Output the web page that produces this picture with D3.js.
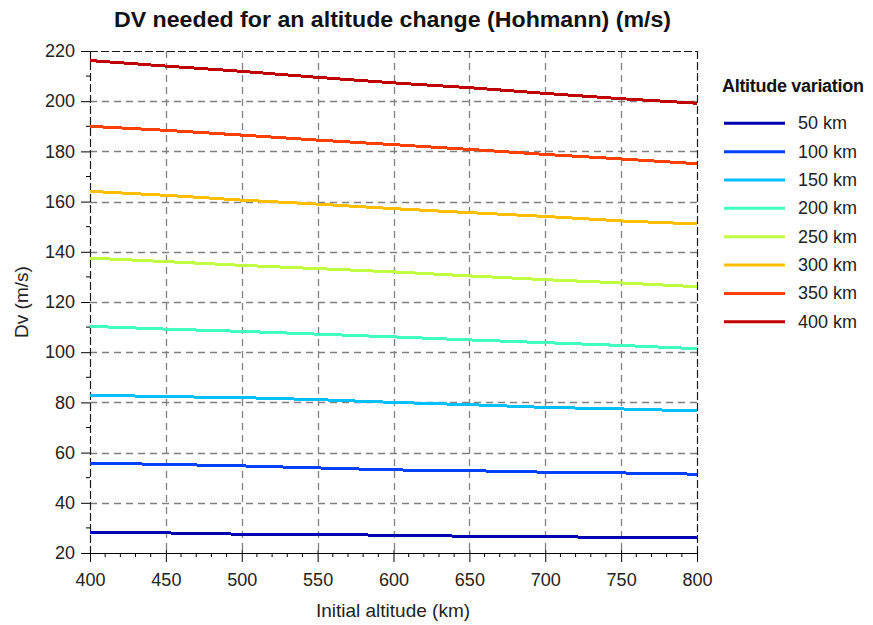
<!DOCTYPE html>
<html>
<head>
<meta charset="utf-8">
<script src="https://cdn.jsdelivr.net/npm/d3@7"></script>
<style>
  body { margin: 0; background: #fff; }
  svg { display: block; font-family: "Liberation Sans", Arial, sans-serif; }
</style>
</head>
<body>
<div id="chart"></div>
<script>
// initial altitudes (km)
const altitudes = [400, 450, 500, 550, 600, 650, 700, 750, 800];
// legend entries (altitude variation)
const variations = ["50 km", "100 km", "150 km", "200 km", "250 km", "300 km", "350 km", "400 km"];
const seriesColors = ["#0000b0", "#0040ff", "#00bfff", "#40ffbf", "#bfff40", "#ffbf00", "#ff4000", "#c00000"];

// DV values (m/s)
const dv50  = [28.0, 28.0, 27.5, 27.5, 27.0, 26.7, 26.5, 26.2, 26.1];
const dv100 = [55.8, 55.3, 54.7, 53.9, 53.1, 52.8, 52.2, 51.9, 51.4];
const dv150 = [82.9, 82.3, 81.9, 81.1, 80.0, 79.1, 78.0, 77.4, 76.6];
const dv200 = [110.3, 109.2, 108.3, 107.2, 106.1, 104.9, 103.8, 102.7, 101.4];
const dv250 = [137.5, 136.1, 134.6, 133.3, 132.0, 130.4, 128.9, 127.6, 126.1];
const dv300 = [164.1, 162.5, 160.6, 159.0, 157.2, 155.6, 154.1, 152.3, 151.1];
const dv350 = [190.0, 188.4, 186.5, 184.5, 182.7, 180.8, 178.8, 177.0, 175.1];
const dv400 = [216.2, 214.0, 211.9, 209.5, 207.3, 205.4, 203.1, 201.0, 199.2];
const allSeries = [dv50, dv100, dv150, dv200, dv250, dv300, dv350, dv400];

const xTicks = [400, 450, 500, 550, 600, 650, 700, 750, 800];
const yTicks = [20, 40, 60, 80, 100, 120, 140, 160, 180, 200, 220];

const W = 873, H = 625;
const plot = { left: 90, right: 697, top: 51, bottom: 553 };

const svg = d3.select("#chart").append("svg")
  .attr("width", W).attr("height", H);

const x = d3.scaleLinear().domain([400, 800]).range([plot.left, plot.right]);
const y = d3.scaleLinear().domain([20, 220]).range([plot.bottom, plot.top]);

// grid
const grid = svg.append("g").attr("stroke", "#808080").attr("stroke-width", 1.3)
  .attr("stroke-dasharray", "7,5");
grid.selectAll("line.gx").data(xTicks.slice(1, -1)).join("line")
  .attr("x1", d => Math.round(x(d)) + 0.5).attr("x2", d => Math.round(x(d)) + 0.5)
  .attr("y1", plot.top).attr("y2", plot.bottom);
grid.selectAll("line.gy").data(yTicks.slice(1, -1)).join("line")
  .attr("y1", d => Math.round(y(d)) + 0.5).attr("y2", d => Math.round(y(d)) + 0.5)
  .attr("x1", plot.left).attr("x2", plot.right);

// box: top, right and left sides dashed
const frame = svg.append("g").attr("stroke", "#1a1a1a").attr("stroke-width", 1.2)
  .attr("stroke-dasharray", "8,3");
frame.append("line").attr("x1", plot.left).attr("x2", plot.right).attr("y1", plot.top + 0.5).attr("y2", plot.top + 0.5);
frame.append("line").attr("x1", plot.right + 0.5).attr("x2", plot.right + 0.5).attr("y1", plot.top).attr("y2", plot.bottom);
frame.append("line").attr("x1", plot.left + 0.5).attr("x2", plot.left + 0.5).attr("y1", plot.top).attr("y2", plot.bottom);

// data lines
const line = d3.line().x((d, i) => x(altitudes[i])).y(d => y(d));
svg.append("g").selectAll("path").data(allSeries).join("path")
  .attr("d", line)
  .attr("fill", "none")
  .attr("stroke", (d, i) => seriesColors[i])
  .attr("stroke-width", 3)
  .attr("shape-rendering", "crispEdges");

// x axis
const xAxis = d3.axisBottom(x).tickValues(xTicks).tickSize(9).tickSizeOuter(0).tickFormat(d3.format("d"));
const gx = svg.append("g").attr("transform", `translate(0,${plot.bottom})`).call(xAxis);
gx.select(".domain").attr("stroke", "#000");
gx.selectAll(".tick line").attr("stroke", "#000").attr("y1", -3);
gx.selectAll(".tick text").attr("font-size", 18).attr("fill", "#222").attr("y", 0).attr("dy", 33)
  .attr("font-family", "Liberation Sans, Arial, sans-serif");
const xMinor = d3.range(400, 801, 10).filter(d => d % 50 !== 0);
gx.selectAll("line.minor").data(xMinor).join("line")
  .attr("class", "minor").attr("stroke", "#000")
  .attr("x1", d => x(d)).attr("x2", d => x(d)).attr("y1", 0).attr("y2", 4);

// y axis
const yAxis = d3.axisLeft(y).tickValues(yTicks).tickSize(9).tickSizeOuter(0);
const gy = svg.append("g").attr("transform", `translate(${plot.left},0)`).call(yAxis);
gy.select(".domain").attr("stroke", "none");
gy.selectAll(".tick line").attr("stroke", "#000");
gy.selectAll(".tick text").attr("font-size", 18).attr("fill", "#222").attr("x", -15)
  .attr("font-family", "Liberation Sans, Arial, sans-serif");
const yMinor = d3.range(30, 220, 20);
gy.selectAll("line.minor").data(yMinor).join("line")
  .attr("class", "minor").attr("stroke", "#000")
  .attr("y1", d => y(d)).attr("y2", d => y(d)).attr("x1", -4).attr("x2", 0);

// title + axis labels
svg.append("text").attr("x", 392.5).attr("y", 27).attr("text-anchor", "middle")
  .attr("font-size", 22).attr("font-weight", "bold").attr("fill", "#111")
  .attr("textLength", 557).attr("lengthAdjust", "spacingAndGlyphs")
  .text("DV needed for an altitude change (Hohmann) (m/s)");
svg.append("text").attr("x", 393).attr("y", 617).attr("text-anchor", "middle")
  .attr("font-size", 19).attr("fill", "#222").text("Initial altitude (km)");
svg.append("text").attr("transform", "translate(28,302) rotate(-90)").attr("text-anchor", "middle")
  .attr("font-size", 19).attr("fill", "#222").text("Dv (m/s)");

// legend
const legend = svg.append("g").attr("transform", "translate(722,0)");
legend.append("text").attr("x", 0).attr("y", 92).attr("font-size", 18).attr("font-weight", "bold")
  .attr("fill", "#111").attr("letter-spacing", -0.3)
  .text("Altitude variation");
const items = legend.selectAll("g.item").data(variations).join("g")
  .attr("class", "item")
  .attr("transform", (d, i) => `translate(0,${123.3 + i * 28.35})`);
items.append("line").attr("x1", 2).attr("x2", 63).attr("y1", 0).attr("y2", 0)
  .attr("stroke", (d, i) => seriesColors[i]).attr("stroke-width", 3);
items.append("text").attr("x", 76).attr("y", 6).attr("font-size", 18).attr("fill", "#222").text(d => d);
</script>
</body>
</html>
